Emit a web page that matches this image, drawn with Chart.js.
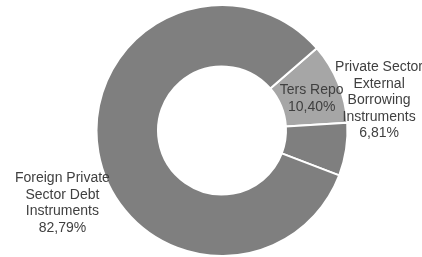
<!DOCTYPE html>
<html>
<head>
<meta charset="utf-8">
<script src="https://cdn.jsdelivr.net/npm/chart.js@4"></script>
<style>
  html, body { margin: 0; padding: 0; background: #fff; }
  #wrap { width: 422px; height: 257px; position: relative; }
</style>
</head>
<body>
<div id="wrap"><canvas id="debtChart"></canvas></div>
<script>
var labels = ['Ters Repo', 'Private Sector External Borrowing Instruments', 'Foreign Private Sector Debt Instruments'];
var shares = [10.40, 6.81, 82.79];
var labelLines = [
    ['Ters Repo'],
    ['Private Sector', 'External', 'Borrowing', 'Instruments'],
    ['Foreign Private', 'Sector Debt', 'Instruments']
];
var colors = ['#a6a6a6', '#7f7f7f', '#7f7f7f'];

// where each label sits relative to its slice: [radius factor, dx, dy]
var labelPlace = [
    [0.5, 2, 4],
    [1.0, 33, -49],
    [1.0, -36, 51]
];

var sliceLabels = {
    id: 'sliceLabels',
    afterDraw: function(chart) {
        var ctx = chart.ctx;
        var meta = chart.getDatasetMeta(0);
        ctx.save();
        ctx.font = '14px "Liberation Sans", Arial, sans-serif';
        ctx.fillStyle = '#404040';
        ctx.textAlign = 'center';
        ctx.textBaseline = 'middle';
        meta.data.forEach(function(arc, i) {
            var p = arc.getProps(['x', 'y', 'startAngle', 'endAngle', 'innerRadius', 'outerRadius'], true);
            var mid = (p.startAngle + p.endAngle) / 2;
            var place = labelPlace[i];
            var r = p.innerRadius + (p.outerRadius - p.innerRadius) * place[0];
            var cx = p.x + Math.cos(mid) * r + place[1];
            var cy = p.y + Math.sin(mid) * r + place[2];
            var lines = labelLines[i].concat([shares[i].toFixed(2).replace('.', ',') + '%']);
            var lh = 16.5;
            var top = cy - (lines.length - 1) * lh / 2;
            lines.forEach(function(t, k) {
                ctx.fillText(t, cx, top + k * lh);
            });
        });
        ctx.restore();
    }
};

var ctx = document.getElementById('debtChart');
var chart = new Chart(ctx, {
    type: 'doughnut',
    data: {
        labels: labels,
        datasets: [{
            data: shares,
            backgroundColor: colors,
            borderColor: '#ffffff',
            borderWidth: 2,
            hoverOffset: 0
        }]
    },
    options: {
        responsive: true,
        maintainAspectRatio: false,
        animation: false,
        rotation: 49,
        cutout: '51%',
        layout: { padding: { left: 88, right: 66, top: 4, bottom: 0 } },
        plugins: {
            legend: { display: false },
            tooltip: { enabled: false }
        }
    },
    plugins: [sliceLabels]
});
</script>
</body>
</html>
